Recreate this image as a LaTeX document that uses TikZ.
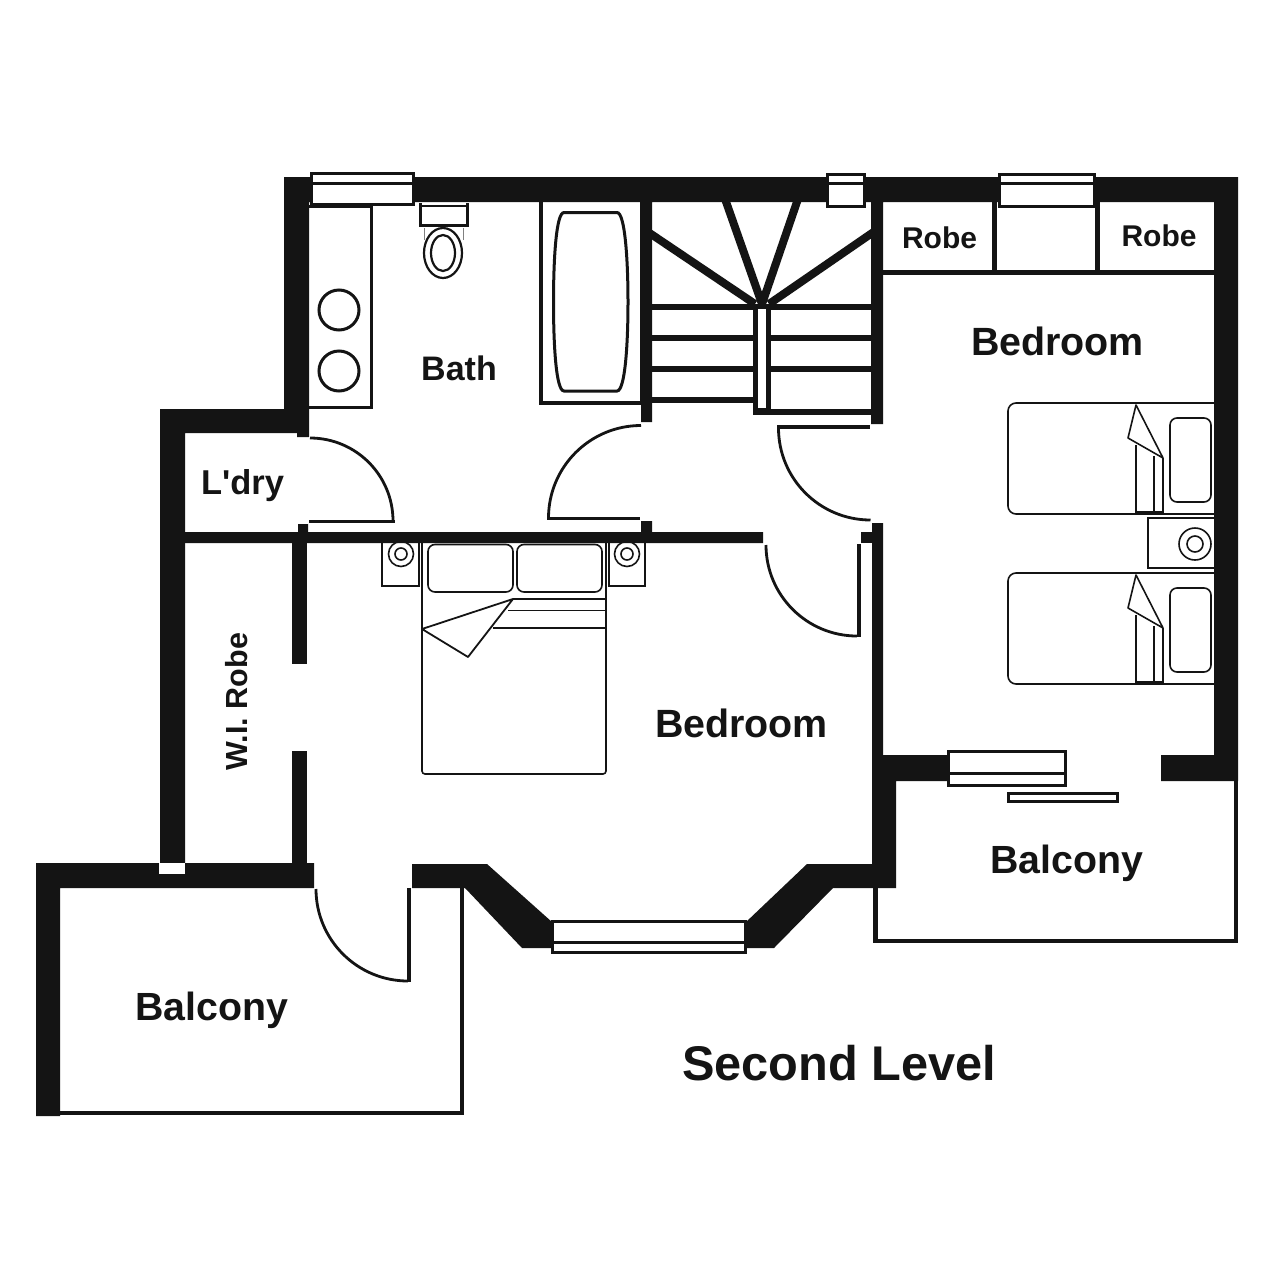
\documentclass[tikz,border=0pt]{standalone}
\usepackage{fontspec}
\setmainfont{Liberation Sans}
\definecolor{ink}{HTML}{141414}
\tikzset{
  wall/.style={fill=ink,draw=none},
  heavy/.style={draw=ink,line width=3pt,line join=miter},
  leaf/.style={draw=ink,line width=3.5pt},
  swing/.style={draw=ink,line width=2.8pt},
  furn/.style={draw=ink,line width=1.6pt},
  tread/.style={draw=ink,line width=6pt},
  glass/.style={draw=ink,line width=3pt,fill=white},
  lbl/.style={text=ink,inner sep=0pt,anchor=base,font=\bfseries},
  spoke/.style={draw=ink,line width=8pt},
}
\newcommand{\fsz}[1]{\fontsize{#1}{#1}\selectfont}
\begin{document}
\begin{tikzpicture}[x=1pt,y=-1pt]
\useasboundingbox (0,0) rectangle (1275,1280);
\fill[white] (0,0) rectangle (1275,1280);

% ---- thin balcony outlines
\draw[draw=ink,line width=4.5pt,line join=miter] (875.5,885) -- (875.5,941) -- (1236,941) -- (1236,778);
\draw[draw=ink,line width=4.5pt,line join=miter] (462,885) -- (462,1113) -- (50,1113);

% ---- main walls
\fill[wall] (284,177) -- (1238,177) -- (1238,781) -- (1161,781) -- (1161,755) -- (1214,755) -- (1214,202)
  -- (883,202) -- (883,424) -- (871,424) -- (871,202) -- (652,202) -- (652,422) -- (641,422) -- (641,404) -- (640,404) -- (640,202)
  -- (309,202) -- (309,437) -- (297,437) -- (297,433) -- (185,433) -- (185,863) -- (160,863) -- (160,409) -- (284,409) -- cycle;
% middle partition
\fill[wall] (185,532) -- (298,532) -- (298,524) -- (308,524) -- (308,532) -- (641,532) -- (641,521) -- (652,521) -- (652,532) -- (763,532) -- (763,543) -- (185,543) -- cycle;
% W.I. robe partition
\fill[wall] (292,543) rectangle (307,664);
\fill[wall] (292,751) rectangle (307,864);
% south wall with balcony
\fill[wall] (36,863) -- (314,863) -- (314,888) -- (60,888) -- (60,1116) -- (36,1116) -- cycle;
\fill[white] (159,863) rectangle (185,874);
% bay wall
\fill[wall] (412,864) -- (487,864) -- (552,922) -- (552,948) -- (522,948) -- (465,888) -- (412,888) -- cycle;
\fill[wall] (746,922) -- (807,864) -- (872,864) -- (872,523) -- (883,523) -- (883,755) -- (947,755) -- (947,781) -- (896,781) -- (896,888) -- (833,888) -- (774,948) -- (746,948) -- cycle;
\fill[wall] (861,532) rectangle (872,543);

% ---- windows
\draw[glass] (311,173.5) rectangle (413.5,204);
\draw[heavy] (311,183.5) -- (413.5,183.5);
\draw[glass] (827,174.5) rectangle (864.5,206.5);
\draw[heavy] (827,183.5) -- (864.5,183.5);
\draw[glass] (999.5,174.5) rectangle (1094,206.5);
\draw[heavy] (999.5,183.5) -- (1094,183.5);
\draw[glass] (552.5,921.5) rectangle (745,952.5);
\draw[heavy] (552.5,942) -- (745,942);
\draw[glass] (948.5,751.5) rectangle (1065.5,785.5);
\draw[heavy] (948.5,773.5) -- (1065.5,773.5);
\draw[glass] (1008.5,793.5) rectangle (1117.5,801.5);

% ---- robes
\draw[draw=ink,line width=5pt] (882,272.5) -- (1214,272.5);
\draw[draw=ink,line width=5pt] (994.5,202) -- (994.5,272);
\draw[draw=ink,line width=5pt] (1097.5,202) -- (1097.5,272);

% ---- vanity
\draw[heavy] (309,206) -- (371,206) -- (371,407.5) -- (309,407.5);
\draw[heavy] (339,310) circle (20);
\draw[heavy] (339,371) circle (20);

% ---- toilet
\draw[heavy] (420.5,203) -- (420.5,225.5) -- (467.5,225.5) -- (467.5,203);
\draw[draw=ink,line width=2pt] (420.5,206) -- (467.5,206);
\draw[draw=gray,line width=1pt] (424,228) -- (424,240) (463,228) -- (463,240);
\draw[draw=ink,fill=white,line width=2.2pt] (443,253) ellipse (19 and 25);
\draw[draw=ink,line width=2.2pt] (443,253) ellipse (12 and 18);

% ---- bath
\draw[draw=ink,line width=3.5pt] (541,202) -- (541,403) -- (641,403);
\draw[heavy] (564,212.5) -- (617,212.5) .. controls (625,212.5) and (628,260) .. (628,302) .. controls (628,345) and (625,391) .. (617,391) -- (564,391) .. controls (556,391) and (553.5,345) .. (553.5,302) .. controls (553.5,260) and (556,212.5) .. (564,212.5) -- cycle;

% ---- stairs
\draw[tread] (652,306.5) -- (871,306.5);
\draw[tread] (652,338) -- (871,338);
\draw[tread] (652,369) -- (871,369);
\draw[tread] (652,399.5) -- (756,399.5);
\draw[tread] (753,411.5) -- (871,411.5);
\coordinate (hub) at (762,304);
\coordinate (hubl) at (755,304);
\coordinate (hubr) at (769,304);
\begin{scope}
\clip (652,202) rectangle (871,306);
\draw[spoke] (648,232) -- (hubl);
\draw[spoke] (875,231) -- (hubr);
\draw[spoke] (724,196) -- (hub);
\draw[spoke] (799,196) -- (hub);
\end{scope}
\fill[wall] (753,304) rectangle (771,414);
\fill[white] (758,309) rectangle (766,408);

% ---- doors
\draw[leaf] (547,518.5) -- (640,518.5);
\draw[swing] (548.5,518) arc[start angle=180,end angle=270,radius=92.5];
\draw[leaf] (309,521.5) -- (395,521.5);
\draw[swing] (393,521) arc[start angle=0,end angle=-90,radius=83];
\draw[leaf] (777,427) -- (870,427);
\draw[swing] (778.5,428) arc[start angle=180,end angle=90,radius=92];
\draw[leaf] (859,544) -- (859,637);
\draw[swing] (766,545) arc[start angle=180,end angle=90,radius=91];
\draw[leaf] (409,888) -- (409,982);
\draw[swing] (316,889) arc[start angle=180,end angle=90,radius=92];

% ---- double bed
\draw[furn,rounded corners=3pt] (422,543) -- (422,774) -- (606,774) -- (606,543);
\draw[furn,rounded corners=7pt] (428,544.5) rectangle (513,592);
\draw[furn,rounded corners=7pt] (517,544.5) rectangle (602,592);
\draw[furn] (382,543) -- (382,586) -- (419,586) -- (419,543);
\draw[furn] (609,543) -- (609,586) -- (645,586) -- (645,543);
\draw[furn] (401,554) circle (12.5);
\draw[furn] (401,554) circle (6);
\draw[furn] (627,554) circle (12.5);
\draw[furn] (627,554) circle (6);
\draw[furn] (513,599) -- (606,599) (508,610.5) -- (606,610.5) (493,628) -- (606,628);
\draw[furn,line join=round,line width=1.8pt] (513,599) -- (422,629) -- (468,657) -- cycle;

% ---- twin beds
\foreach \dy in {0,170}{
  \begin{scope}[yshift=-\dy pt]
  \draw[furn,rounded corners=8pt] (1214,403) -- (1008,403) -- (1008,514) -- (1214,514);
  \draw[furn,rounded corners=7pt] (1170,418) rectangle (1211,502);
  \draw[furn] (1136,445) -- (1136,512) -- (1163,512) -- (1163,458);
  \draw[furn] (1154,456) -- (1154,512);
  \draw[furn,line join=round] (1136,405) -- (1163,458) -- (1128,438) -- cycle;
  \end{scope}
}
\draw[furn] (1214,518) -- (1148,518) -- (1148,568) -- (1214,568);
\draw[furn] (1195,544) circle (16);
\draw[furn] (1195,544) circle (8);

% ---- labels
\node[lbl] (bath) at (459,380) {\fsz{34}Bath};
\node[lbl] (ldry) at (242.5,494) {\fsz{34.5}L\textquotesingle dry};
\node[lbl,rotate=90] (wirobe) at (247,701.5) {\fsz{30.5}W.I. Robe};
\node[lbl] (robea) at (939.5,248) {\fsz{30}Robe};
\node[lbl] (robeb) at (1159,246) {\fsz{30}Robe};
\node[lbl] (bedr) at (1057.5,355) {\fsz{39.4}Bedroom};
\node[lbl] (bedl) at (741.5,737) {\fsz{39.4}Bedroom};
\node[lbl] (balr) at (1066.5,873) {\fsz{39.3}Balcony};
\node[lbl] (ball) at (211.5,1020) {\fsz{39.3}Balcony};
\node[lbl] (level) at (839,1080) {\fsz{48.7}Second Level};
\end{tikzpicture}
\end{document}
